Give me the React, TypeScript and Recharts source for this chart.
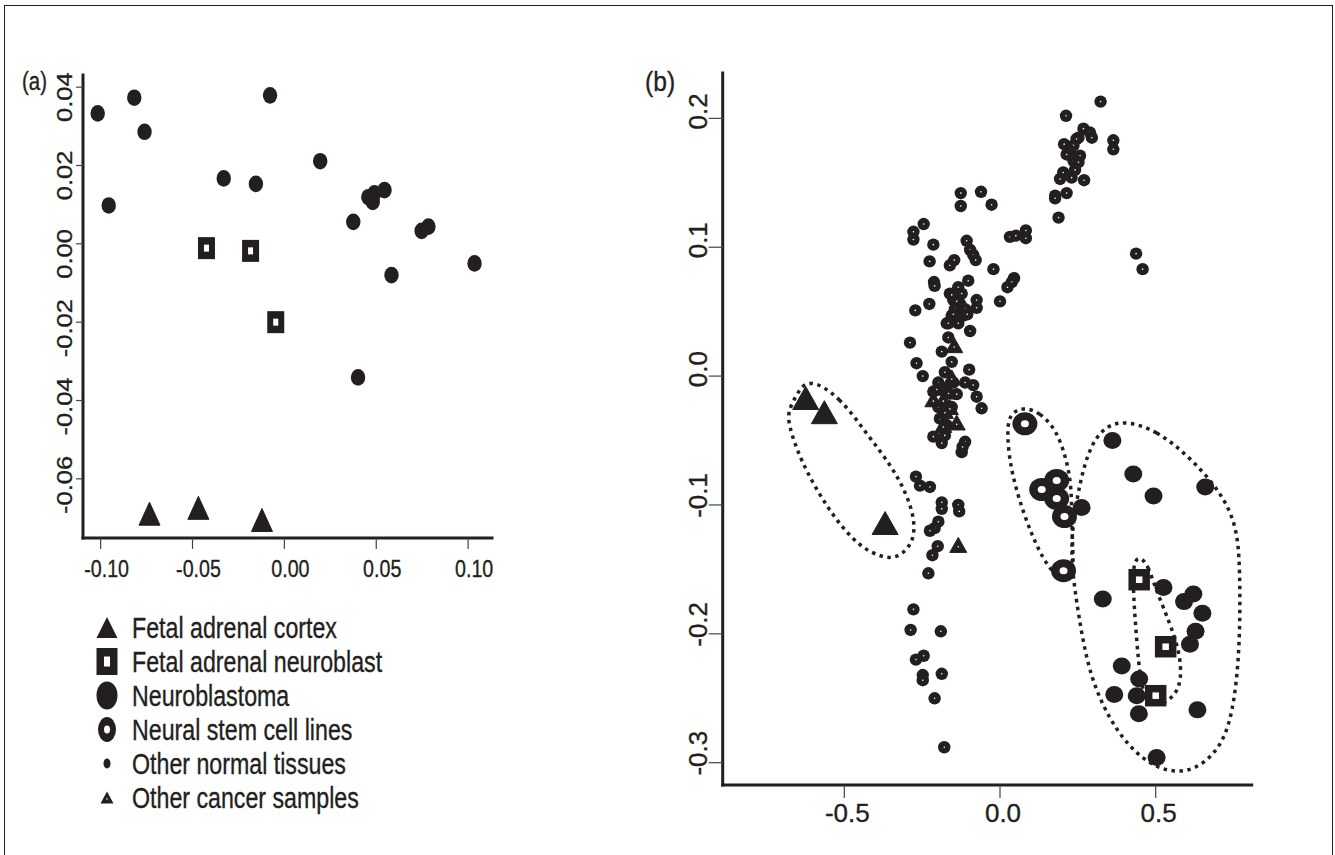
import React from 'react';
import { ScatterChart, Scatter, XAxis, YAxis, Legend } from 'recharts';

const INK = '#231f20';
const FONT = '"Liberation Sans", Arial, Helvetica, sans-serif';

type Pt = [number, number];

// ---- panel (a) ----
const aCortex: Pt[] = [[-0.0734, -0.0689], [-0.0468, -0.0674], [-0.0122, -0.0705]];
const aNeuroblast: Pt[] = [[-0.0424, -0.0011], [-0.0184, -0.0018], [-0.0047, -0.02]];
const aTumour: Pt[] = [
  [-0.1016, 0.0333], [-0.0817, 0.0373], [-0.0761, 0.0286], [-0.0956, 0.0098], [-0.0078, 0.0379],
  [-0.033, 0.0167], [-0.0155, 0.0153], [0.0195, 0.0211], [0.0375, 0.0056], [0.0457, 0.0119],
  [0.0481, 0.0107], [0.049, 0.0129], [0.0545, 0.0137], [0.0747, 0.0033], [0.0784, 0.0044],
  [0.0583, -0.008], [0.1035, -0.005], [0.0401, -0.0341],
];
const aXTicks = [-0.1, -0.05, 0, 0.05, 0.1];
const aYTicks = [-0.06, -0.04, -0.02, 0, 0.02, 0.04];

// ---- panel (b) ----
const bCortex: Pt[] = [[-0.624, -0.017], [-0.564, -0.028], [-0.369, -0.114]];
const bNeuroblast: Pt[] = [[0.447, -0.158], [0.532, -0.21], [0.5, -0.248]];
const bStem: Pt[] = [[0.08, -0.037], [0.134, -0.088], [0.182, -0.081], [0.182, -0.095], [0.207, -0.109], [0.204, -0.151]];
const bTumour: Pt[] = [
  [0.361, -0.05], [0.428, -0.076], [0.493, -0.093], [0.659, -0.086], [0.262, -0.102], [0.525, -0.164],
  [0.33, -0.173], [0.621, -0.169], [0.591, -0.175], [0.65, -0.184], [0.628, -0.198], [0.61, -0.208],
  [0.391, -0.225], [0.447, -0.235], [0.367, -0.247], [0.439, -0.248], [0.446, -0.262], [0.634, -0.259],
  [0.503, -0.296],
];
const bNormal: Pt[] = [
  [0.323, 0.213], [0.212, 0.202], [0.268, 0.192], [0.289, 0.189], [0.295, 0.185], [0.252, 0.185],
  [0.246, 0.184], [0.206, 0.18], [0.236, 0.179], [0.225, 0.175], [0.214, 0.172], [0.257, 0.171],
  [0.236, 0.167], [0.252, 0.166], [0.241, 0.16], [0.203, 0.158], [0.193, 0.153], [0.23, 0.154],
  [0.27, 0.152], [0.364, 0.183], [0.364, 0.176], [0.214, 0.142], [0.177, 0.14], [0.177, 0.138],
  [0.188, 0.123], [0.437, 0.095], [0.458, 0.083],
  [0.032, 0.108], [0.051, 0.109], [0.083, 0.113], [0.083, 0.107], [-0.021, 0.083], [0.045, 0.076],
  [0.038, 0.073], [0.024, 0.069], [0.0, 0.058], [-0.027, 0.133],
  [-0.126, 0.142], [-0.126, 0.132], [-0.061, 0.143], [-0.245, 0.118], [-0.278, 0.112], [-0.278, 0.106],
  [-0.214, 0.102], [-0.226, 0.089], [-0.161, 0.086], [-0.147, 0.09], [-0.107, 0.105], [-0.096, 0.098],
  [-0.086, 0.094], [-0.078, 0.09], [-0.212, 0.073], [-0.21, 0.07], [-0.102, 0.074], [-0.134, 0.069],
  [-0.161, 0.064], [-0.075, 0.059], [-0.075, 0.053], [-0.227, 0.056], [-0.272, 0.051],
  [-0.15, 0.059], [-0.128, 0.056], [-0.145, 0.052], [-0.112, 0.052], [-0.155, 0.047], [-0.118, 0.047],
  [-0.171, 0.041], [-0.134, 0.041], [-0.096, 0.035], [-0.166, 0.03], [-0.155, 0.063], [-0.123, 0.064],
  [-0.139, 0.058], [-0.15, 0.048], [-0.105, 0.048], [-0.166, 0.041],
  [-0.289, 0.026], [-0.187, 0.019], [-0.268, 0.01], [-0.155, 0.011], [-0.248, 0.0], [-0.177, 0.003],
  [-0.099, 0.005], [-0.198, -0.005], [-0.15, -0.005], [-0.112, -0.005], [-0.086, -0.007], [-0.214, -0.012],
  [-0.171, -0.011], [-0.139, -0.014], [-0.075, -0.016], [-0.198, -0.024], [-0.155, -0.024], [-0.059, -0.025],
  [-0.193, -0.033], [-0.171, -0.038], [-0.214, -0.047], [-0.177, -0.046], [-0.187, -0.052], [-0.112, -0.051],
  [-0.123, -0.059], [-0.12, -0.055],
  [-0.27, -0.078], [-0.257, -0.085], [-0.225, -0.086], [-0.187, -0.098], [-0.187, -0.103], [-0.134, -0.1],
  [-0.131, -0.105], [-0.198, -0.113], [-0.21, -0.118], [-0.225, -0.12], [-0.2, -0.132], [-0.217, -0.139],
  [-0.23, -0.153], [-0.278, -0.181], [-0.287, -0.197], [-0.19, -0.198], [-0.27, -0.22], [-0.245, -0.217],
  [-0.248, -0.232], [-0.248, -0.236], [-0.187, -0.231], [-0.21, -0.25], [-0.179, -0.288],
];
const bCancer: Pt[] = [
  [-0.147, 0.024], [-0.214, -0.018], [-0.182, -0.018], [-0.161, -0.024], [-0.139, -0.036], [-0.182, -0.038],
  [-0.203, -0.009], [-0.155, -0.001], [-0.177, -0.027], [-0.134, -0.131], [-0.165, -0.012],
];

// dotted group outlines
const hullCortex: Pt[] = [
  [-0.616, -0.001], [-0.514, -0.016], [-0.428, -0.045], [-0.353, -0.068], [-0.3, -0.091], [-0.273, -0.112],
  [-0.278, -0.128], [-0.311, -0.138], [-0.353, -0.142], [-0.407, -0.138], [-0.471, -0.128], [-0.557, -0.102],
  [-0.642, -0.065], [-0.68, -0.037], [-0.68, -0.027], [-0.653, -0.014],
];
const hullStem: Pt[] = [
  [0.075, -0.024], [0.128, -0.028], [0.182, -0.042], [0.214, -0.065], [0.23, -0.086], [0.23, -0.115],
  [0.235, -0.138], [0.235, -0.153], [0.209, -0.159], [0.171, -0.153], [0.128, -0.138], [0.075, -0.107],
  [0.032, -0.071], [0.022, -0.042], [0.032, -0.029],
];
const hullTumour: Pt[] = [
  [0.396, -0.034], [0.503, -0.042], [0.61, -0.063], [0.706, -0.089], [0.76, -0.115], [0.771, -0.148],
  [0.771, -0.21], [0.749, -0.262], [0.706, -0.29], [0.621, -0.307], [0.535, -0.307], [0.46, -0.298],
  [0.375, -0.277], [0.289, -0.236], [0.251, -0.184], [0.23, -0.148], [0.23, -0.12], [0.257, -0.081],
  [0.289, -0.055], [0.332, -0.04],
];
const hullNeuroblast: Pt[] = [
  [0.45, -0.14], [0.476, -0.147], [0.498, -0.164], [0.546, -0.192], [0.578, -0.215], [0.583, -0.236],
  [0.562, -0.248], [0.514, -0.256], [0.471, -0.253], [0.45, -0.236], [0.439, -0.205], [0.428, -0.169],
  [0.428, -0.151], [0.434, -0.143],
];
const bXTicks = [-0.5, 0, 0.5];
const bYTicks = [-0.3, -0.2, -0.1, 0, 0.1, 0.2];

const legendItems = [
  { name: 'Fetal adrenal cortex', kind: 'bigTri' },
  { name: 'Fetal adrenal neuroblast', kind: 'square' },
  { name: 'Neuroblastoma', kind: 'circle' },
  { name: 'Neural stem cell lines', kind: 'ring' },
  { name: 'Other normal tissues', kind: 'dot' },
  { name: 'Other cancer samples', kind: 'smallTri' },
];

const toPts = (arr: Pt[]) => arr.map(([x, y]) => ({ x, y }));

// ---- marker shapes ----
const triPath = (cx: number, cy: number, w: number, h: number) =>
  `${cx},${cy - h / 2} ${cx - w / 2},${cy + h / 2} ${cx + w / 2},${cy + h / 2}`;

const tri = (w: number, h: number, pip = false) => (p: any) => (
  <g>
    <polygon points={triPath(p.cx, p.cy, w, h)} fill={INK} stroke={INK} strokeWidth={1} strokeLinejoin="round" />
    {pip && <circle cx={p.cx} cy={p.cy + h / 8} r={0.8} fill="#fff" />}
  </g>
);
const oval = (rx: number, ry: number) => (p: any) => <ellipse cx={p.cx} cy={p.cy} rx={rx} ry={ry} fill={INK} />;
const box = (w: number, h: number, iw: number, ih: number) => (p: any) => (
  <g>
    <rect x={p.cx - w / 2} y={p.cy - h / 2} width={w} height={h} fill={INK} />
    <rect x={p.cx - iw / 2} y={p.cy - ih / 2} width={iw} height={ih} fill="#fff" />
  </g>
);
const ring = (rx: number, ry: number, irx: number, iry: number) => (p: any) => (
  <g>
    <ellipse cx={p.cx} cy={p.cy} rx={rx} ry={ry} fill={INK} />
    <ellipse cx={p.cx} cy={p.cy} rx={irx} ry={iry} fill="#fff" />
  </g>
);
const dot = (r: number) => (p: any) => (
  <g>
    <circle cx={p.cx} cy={p.cy} r={r} fill={INK} />
    <circle cx={p.cx} cy={p.cy} r={0.8} fill="#fff" />
  </g>
);
const noMark = () => <g />;

// ---- ticks ----
const textInk = { fill: INK, stroke: INK, strokeWidth: 0.35, fontFamily: FONT };

const xTick = (fs: number, sx: number, dx: number, dy: number, digits: number) => (props: any) => {
  const { x, y, payload } = props;
  return (
    <text transform={`translate(${x + dx},${y + dy}) scale(${sx},1)`} textAnchor="middle" fontSize={fs} {...textInk}>
      {Number(payload.value).toFixed(digits)}
    </text>
  );
};
// R-style rotated labels; the scan puts them a few px off their ticks
const yTick = (fs: number, sx: number, dx: number, shiftPos: number, shiftNeg: number, digits: number) => (props: any) => {
  const { x, y, payload } = props;
  const v = Number(payload.value);
  const sh = v < 0 ? shiftNeg : shiftPos;
  return (
    <text transform={`translate(${x + dx},${y + sh}) scale(${sx},1) rotate(-90)`} textAnchor="middle" fontSize={fs} {...textInk}>
      {v.toFixed(digits)}
    </text>
  );
};

const axisLine = { stroke: INK, strokeWidth: 3, strokeLinecap: 'square' as const };
const tickLine = { stroke: '#444', strokeWidth: 1.2 };
const hullLine = { stroke: INK, strokeWidth: 3.5, strokeDasharray: '3.5 4.5', fill: 'none' };

const legendSymbol = (kind: string, cx: number, cy: number) => {
  switch (kind) {
    case 'bigTri': return <polygon points={triPath(cx, cy, 21, 21)} fill={INK} />;
    case 'square': return (
      <g>
        <rect x={cx - 10.5} y={cy - 13.5} width={21} height={27} fill={INK} />
        <rect x={cx - 3} y={cy - 5} width={6} height={10} fill="#fff" />
      </g>
    );
    case 'circle': return <ellipse cx={cx} cy={cy} rx={10.5} ry={14} fill={INK} />;
    case 'ring': return (
      <g>
        <ellipse cx={cx} cy={cy} rx={9} ry={12.5} fill={INK} />
        <ellipse cx={cx} cy={cy} rx={3} ry={4} fill="#fff" />
      </g>
    );
    case 'dot': return <ellipse cx={cx} cy={cy} rx={3.5} ry={5} fill={INK} />;
    default: return (
      <g>
        <polygon points={triPath(cx, cy, 13, 12)} fill={INK} />
        <circle cx={cx} cy={cy + 1.5} r={0.8} fill="#fff" />
      </g>
    );
  }
};

const SampleLegend = () => (
  <svg width={460} height={230} style={{ display: 'block' }}>
    {legendItems.map((it, i) => {
      const base = 38 + i * 34;
      return (
        <g key={it.name}>
          {legendSymbol(it.kind, 107, base - 10.5)}
          <text transform={`translate(132,${base}) scale(0.8,1)`} fontSize={29} {...textInk}>
            {it.name}
          </text>
        </g>
      );
    })}
  </svg>
);

export default function App() {
  return (
    <div style={{ position: 'absolute', left: 0, top: 0, width: 1335, height: 855, overflow: 'hidden', background: '#fff' }}>
      <div style={{
        position: 'absolute', left: 4, top: 5, width: 1329, height: 850, boxSizing: 'border-box',
        borderLeft: `1.5px solid ${INK}`, borderTop: `1.5px solid ${INK}`, borderRight: `1.5px solid ${INK}`,
      }} />

      <div style={{ position: 'absolute', left: 0, top: 0 }}>
        <ScatterChart width={620} height={855} margin={{ top: 75, right: 128, bottom: 267, left: 23 }}>
          <XAxis type="number" dataKey="x" domain={[-0.1096, 0.113]} ticks={aXTicks} allowDataOverflow
            interval={0} height={50} tickSize={11} tickMargin={0}
            axisLine={axisLine} tickLine={tickLine} tick={xTick(24, 0.82, 6, 28, 2)} />
          <YAxis type="number" dataKey="y" domain={[-0.0751, 0.0431]} ticks={aYTicks} allowDataOverflow
            interval={0} width={60} tickSize={7} tickMargin={0}
            axisLine={axisLine} tickLine={tickLine} tick={yTick(25.5, 0.89, -3.7, 10, 6, 2)} />
          <Scatter name="Neuroblastoma" data={toPts(aTumour)} shape={oval(7.2, 8.3)} isAnimationActive={false} />
          <Scatter name="Fetal adrenal neuroblast" data={toPts(aNeuroblast)} shape={box(17, 22, 5, 7)} isAnimationActive={false} />
          <Scatter name="Fetal adrenal cortex" data={toPts(aCortex)} shape={tri(21, 23)} isAnimationActive={false} />
          <Legend layout="vertical" align="center" verticalAlign="middle" content={SampleLegend}
            wrapperStyle={{ position: 'absolute', left: 0, top: 600, width: 460, height: 230 }} />
        </ScatterChart>
      </div>

      <div style={{ position: 'absolute', left: 620, top: 0 }}>
        <ScatterChart width={715} height={855} margin={{ top: 73, right: 83.3, bottom: 20, left: 42.7 }}>
          <XAxis type="number" dataKey="x" domain={[-0.8905, 0.8083]} ticks={bXTicks} allowDataOverflow
            interval={0} height={50} tickSize={13} tickMargin={0}
            axisLine={axisLine} tickLine={tickLine} tick={xTick(26, 1, 3, 23.5, 1)} />
          <YAxis type="number" dataKey="y" domain={[-0.3173, 0.2352]} ticks={bYTicks} allowDataOverflow
            interval={0} width={60} tickSize={14} tickMargin={0}
            axisLine={axisLine} tickLine={tickLine} tick={yTick(26, 1, -2, -7, -9.5, 1)} />
          <Scatter data={toPts(hullCortex)} shape={noMark} line={hullLine} lineType="joint" lineJointType="basisClosed" fill="none" isAnimationActive={false} />
          <Scatter data={toPts(hullStem)} shape={noMark} line={hullLine} lineType="joint" lineJointType="basisClosed" fill="none" isAnimationActive={false} />
          <Scatter data={toPts(hullTumour)} shape={noMark} line={hullLine} lineType="joint" lineJointType="basisClosed" fill="none" isAnimationActive={false} />
          <Scatter data={toPts(hullNeuroblast)} shape={noMark} line={hullLine} lineType="joint" lineJointType="basisClosed" fill="none" isAnimationActive={false} />
          <Scatter name="Other normal tissues" data={toPts(bNormal)} shape={dot(6.2)} isAnimationActive={false} />
          <Scatter name="Other cancer samples" data={toPts(bCancer)} shape={tri(17, 15, true)} isAnimationActive={false} />
          <Scatter name="Neuroblastoma" data={toPts(bTumour)} shape={oval(9, 8.5)} isAnimationActive={false} />
          <Scatter name="Fetal adrenal neuroblast" data={toPts(bNeuroblast)} shape={box(21.5, 21.5, 6.5, 6.5)} isAnimationActive={false} />
          <Scatter name="Neural stem cell lines" data={toPts(bStem)} shape={ring(12.5, 11.5, 4, 3.5)} isAnimationActive={false} />
          <Scatter name="Fetal adrenal cortex" data={toPts(bCortex)} shape={tri(26, 23)} isAnimationActive={false} />
        </ScatterChart>
      </div>

      <div style={{ position: 'absolute', left: 21.7, top: 64, fontFamily: FONT, fontSize: 25.5, color: INK, transform: 'scaleX(0.8)', transformOrigin: 'left top', lineHeight: '34px', WebkitTextStroke: `0.35px ${INK}` }}>(a)</div>
      <div style={{ position: 'absolute', left: 645, top: 63, fontFamily: FONT, fontSize: 28, color: INK, transform: 'scaleX(0.88)', transformOrigin: 'left top', lineHeight: '38px', WebkitTextStroke: `0.35px ${INK}` }}>(b)</div>
    </div>
  );
}
